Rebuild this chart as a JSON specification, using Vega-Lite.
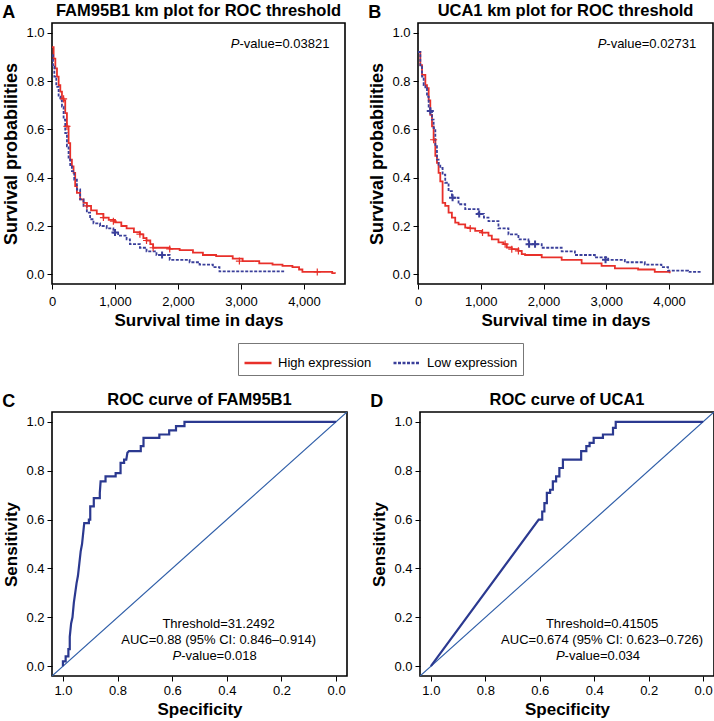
{
  "$schema": "https://vega.github.io/schema/vega-lite/v6.json",
  "padding": {"left": 2, "right": 0, "top": 1, "bottom": 0},
  "background": "white",
  "config": {
    "font": "Liberation Sans",
    "view": {"stroke": "#000", "strokeWidth": 1.6},
    "axis": {"grid": false, "domain": false, "tickColor": "#000", "tickSize": 5, "tickWidth": 1, "labelFontSize": 13, "labelColor": "#000", "labelPadding": 3, "labelFlush": false, "labelOverlap": false, "titleFontSize": 17, "titleFontWeight": "bold", "titleColor": "#000", "labelFont": "Liberation Sans", "titleFont": "Liberation Sans"},
    "axisY": {"titlePadding": 5},
    "axisX": {"titlePadding": 4},
    "title": {"font": "Liberation Sans", "fontSize": 16.5, "fontWeight": "bold", "color": "#000"}
  },
  "datasets": {
    "kmA": [
      {"t": 0, "s": 0.94, "g": "High expression"}, {"t": 26, "s": 0.893, "g": "High expression"}, {"t": 53, "s": 0.852, "g": "High expression"}, {"t": 79, "s": 0.818, "g": "High expression"}, {"t": 105, "s": 0.783, "g": "High expression"}, {"t": 132, "s": 0.756, "g": "High expression"}, {"t": 158, "s": 0.728, "g": "High expression"}, {"t": 184, "s": 0.72, "g": "High expression"}, {"t": 210, "s": 0.667, "g": "High expression"}, {"t": 237, "s": 0.612, "g": "High expression"}, {"t": 263, "s": 0.543, "g": "High expression"}, {"t": 289, "s": 0.475, "g": "High expression"}, {"t": 316, "s": 0.447, "g": "High expression"}, {"t": 342, "s": 0.42, "g": "High expression"}, {"t": 368, "s": 0.365, "g": "High expression"}, {"t": 395, "s": 0.337, "g": "High expression"}, {"t": 447, "s": 0.31, "g": "High expression"}, {"t": 500, "s": 0.296, "g": "High expression"}, {"t": 553, "s": 0.283, "g": "High expression"}, {"t": 620, "s": 0.265, "g": "High expression"}, {"t": 711, "s": 0.25, "g": "High expression"}, {"t": 816, "s": 0.235, "g": "High expression"}, {"t": 900, "s": 0.225, "g": "High expression"}, {"t": 1000, "s": 0.215, "g": "High expression"}, {"t": 1100, "s": 0.2, "g": "High expression"}, {"t": 1184, "s": 0.19, "g": "High expression"}, {"t": 1300, "s": 0.175, "g": "High expression"}, {"t": 1395, "s": 0.165, "g": "High expression"}, {"t": 1450, "s": 0.15, "g": "High expression"}, {"t": 1500, "s": 0.14, "g": "High expression"}, {"t": 1560, "s": 0.125, "g": "High expression"}, {"t": 1605, "s": 0.11, "g": "High expression"}, {"t": 1868, "s": 0.105, "g": "High expression"}, {"t": 2026, "s": 0.1, "g": "High expression"}, {"t": 2237, "s": 0.09, "g": "High expression"}, {"t": 2395, "s": 0.08, "g": "High expression"}, {"t": 2605, "s": 0.075, "g": "High expression"}, {"t": 2868, "s": 0.065, "g": "High expression"}, {"t": 3026, "s": 0.055, "g": "High expression"}, {"t": 3289, "s": 0.045, "g": "High expression"}, {"t": 3500, "s": 0.04, "g": "High expression"}, {"t": 3658, "s": 0.035, "g": "High expression"}, {"t": 3816, "s": 0.03, "g": "High expression"}, {"t": 3921, "s": 0.02, "g": "High expression"}, {"t": 3974, "s": 0.01, "g": "High expression"}, {"t": 4447, "s": 0.005, "g": "High expression"}, {"t": 4490, "s": 0.002, "g": "High expression"},
      {"t": 0, "s": 0.907, "g": "Low expression"}, {"t": 16, "s": 0.859, "g": "Low expression"}, {"t": 37, "s": 0.818, "g": "Low expression"}, {"t": 68, "s": 0.776, "g": "Low expression"}, {"t": 105, "s": 0.735, "g": "Low expression"}, {"t": 132, "s": 0.72, "g": "Low expression"}, {"t": 158, "s": 0.694, "g": "Low expression"}, {"t": 184, "s": 0.64, "g": "Low expression"}, {"t": 210, "s": 0.584, "g": "Low expression"}, {"t": 237, "s": 0.53, "g": "Low expression"}, {"t": 263, "s": 0.475, "g": "Low expression"}, {"t": 289, "s": 0.447, "g": "Low expression"}, {"t": 316, "s": 0.427, "g": "Low expression"}, {"t": 353, "s": 0.392, "g": "Low expression"}, {"t": 395, "s": 0.351, "g": "Low expression"}, {"t": 447, "s": 0.31, "g": "Low expression"}, {"t": 500, "s": 0.283, "g": "Low expression"}, {"t": 553, "s": 0.255, "g": "Low expression"}, {"t": 605, "s": 0.228, "g": "Low expression"}, {"t": 658, "s": 0.211, "g": "Low expression"}, {"t": 763, "s": 0.2, "g": "Low expression"}, {"t": 868, "s": 0.19, "g": "Low expression"}, {"t": 974, "s": 0.173, "g": "Low expression"}, {"t": 1050, "s": 0.16, "g": "Low expression"}, {"t": 1184, "s": 0.145, "g": "Low expression"}, {"t": 1237, "s": 0.125, "g": "Low expression"}, {"t": 1395, "s": 0.11, "g": "Low expression"}, {"t": 1500, "s": 0.095, "g": "Low expression"}, {"t": 1658, "s": 0.08, "g": "Low expression"}, {"t": 1868, "s": 0.06, "g": "Low expression"}, {"t": 2184, "s": 0.05, "g": "Low expression"}, {"t": 2342, "s": 0.04, "g": "Low expression"}, {"t": 2553, "s": 0.03, "g": "Low expression"}, {"t": 2658, "s": 0.012, "g": "Low expression"}, {"t": 3684, "s": 0.012, "g": "Low expression"}
    ],
    "kmB": [
      {"t": 0, "s": 0.92, "g": "High expression"}, {"t": 37, "s": 0.866, "g": "High expression"}, {"t": 64, "s": 0.825, "g": "High expression"}, {"t": 117, "s": 0.783, "g": "High expression"}, {"t": 143, "s": 0.77, "g": "High expression"}, {"t": 170, "s": 0.72, "g": "High expression"}, {"t": 196, "s": 0.66, "g": "High expression"}, {"t": 223, "s": 0.612, "g": "High expression"}, {"t": 249, "s": 0.557, "g": "High expression"}, {"t": 276, "s": 0.49, "g": "High expression"}, {"t": 302, "s": 0.461, "g": "High expression"}, {"t": 328, "s": 0.42, "g": "High expression"}, {"t": 355, "s": 0.385, "g": "High expression"}, {"t": 392, "s": 0.296, "g": "High expression"}, {"t": 434, "s": 0.283, "g": "High expression"}, {"t": 487, "s": 0.255, "g": "High expression"}, {"t": 540, "s": 0.235, "g": "High expression"}, {"t": 593, "s": 0.214, "g": "High expression"}, {"t": 646, "s": 0.207, "g": "High expression"}, {"t": 752, "s": 0.193, "g": "High expression"}, {"t": 832, "s": 0.19, "g": "High expression"}, {"t": 911, "s": 0.18, "g": "High expression"}, {"t": 1017, "s": 0.173, "g": "High expression"}, {"t": 1123, "s": 0.16, "g": "High expression"}, {"t": 1176, "s": 0.145, "g": "High expression"}, {"t": 1282, "s": 0.132, "g": "High expression"}, {"t": 1362, "s": 0.125, "g": "High expression"}, {"t": 1415, "s": 0.111, "g": "High expression"}, {"t": 1494, "s": 0.104, "g": "High expression"}, {"t": 1600, "s": 0.097, "g": "High expression"}, {"t": 1653, "s": 0.084, "g": "High expression"}, {"t": 1706, "s": 0.08, "g": "High expression"}, {"t": 1971, "s": 0.07, "g": "High expression"}, {"t": 2289, "s": 0.06, "g": "High expression"}, {"t": 2607, "s": 0.045, "g": "High expression"}, {"t": 2925, "s": 0.035, "g": "High expression"}, {"t": 3137, "s": 0.025, "g": "High expression"}, {"t": 3507, "s": 0.02, "g": "High expression"}, {"t": 3772, "s": 0.01, "g": "High expression"}, {"t": 4010, "s": 0.005, "g": "High expression"},
      {"t": 0, "s": 0.92, "g": "Low expression"}, {"t": 37, "s": 0.859, "g": "Low expression"}, {"t": 64, "s": 0.818, "g": "Low expression"}, {"t": 90, "s": 0.783, "g": "Low expression"}, {"t": 117, "s": 0.77, "g": "Low expression"}, {"t": 143, "s": 0.735, "g": "Low expression"}, {"t": 170, "s": 0.694, "g": "Low expression"}, {"t": 196, "s": 0.676, "g": "Low expression"}, {"t": 223, "s": 0.64, "g": "Low expression"}, {"t": 249, "s": 0.605, "g": "Low expression"}, {"t": 276, "s": 0.53, "g": "Low expression"}, {"t": 302, "s": 0.475, "g": "Low expression"}, {"t": 328, "s": 0.454, "g": "Low expression"}, {"t": 355, "s": 0.44, "g": "Low expression"}, {"t": 392, "s": 0.413, "g": "Low expression"}, {"t": 434, "s": 0.379, "g": "Low expression"}, {"t": 487, "s": 0.344, "g": "Low expression"}, {"t": 540, "s": 0.317, "g": "Low expression"}, {"t": 646, "s": 0.29, "g": "Low expression"}, {"t": 752, "s": 0.27, "g": "Low expression"}, {"t": 964, "s": 0.25, "g": "Low expression"}, {"t": 1050, "s": 0.235, "g": "Low expression"}, {"t": 1123, "s": 0.22, "g": "Low expression"}, {"t": 1282, "s": 0.19, "g": "Low expression"}, {"t": 1441, "s": 0.165, "g": "Low expression"}, {"t": 1600, "s": 0.145, "g": "Low expression"}, {"t": 1759, "s": 0.125, "g": "Low expression"}, {"t": 1971, "s": 0.11, "g": "Low expression"}, {"t": 2289, "s": 0.095, "g": "Low expression"}, {"t": 2500, "s": 0.08, "g": "Low expression"}, {"t": 2818, "s": 0.07, "g": "Low expression"}, {"t": 3030, "s": 0.06, "g": "Low expression"}, {"t": 3295, "s": 0.05, "g": "Low expression"}, {"t": 3613, "s": 0.04, "g": "Low expression"}, {"t": 3878, "s": 0.03, "g": "Low expression"}, {"t": 3984, "s": 0.015, "g": "Low expression"}, {"t": 4302, "s": 0.01, "g": "Low expression"}, {"t": 4488, "s": 0.005, "g": "Low expression"}
    ],
    "censA": [
      {"t": 184, "s": 0.726, "g": "High expression"}, {"t": 237, "s": 0.612, "g": "High expression"}, {"t": 553, "s": 0.283, "g": "High expression"}, {"t": 816, "s": 0.235, "g": "High expression"}, {"t": 974, "s": 0.22, "g": "High expression"}, {"t": 1395, "s": 0.166, "g": "High expression"}, {"t": 1500, "s": 0.14, "g": "High expression"}, {"t": 1605, "s": 0.11, "g": "High expression"}, {"t": 1868, "s": 0.105, "g": "High expression"}, {"t": 2974, "s": 0.055, "g": "High expression"}, {"t": 4210, "s": 0.01, "g": "High expression"},
      {"t": 1000, "s": 0.173, "g": "Low expression"}, {"t": 1747, "s": 0.08, "g": "Low expression"}
    ],
    "censB": [
      {"t": 249, "s": 0.557, "g": "High expression"}, {"t": 832, "s": 0.19, "g": "High expression"}, {"t": 1028, "s": 0.173, "g": "High expression"}, {"t": 1388, "s": 0.125, "g": "High expression"}, {"t": 1494, "s": 0.104, "g": "High expression"}, {"t": 1600, "s": 0.097, "g": "High expression"},
      {"t": 196, "s": 0.676, "g": "Low expression"}, {"t": 551, "s": 0.317, "g": "Low expression"}, {"t": 975, "s": 0.25, "g": "Low expression"}, {"t": 1770, "s": 0.125, "g": "Low expression"}, {"t": 1865, "s": 0.125, "g": "Low expression"}, {"t": 2988, "s": 0.06, "g": "Low expression"}
    ],
    "pvA": [{"t": 2974, "s": 0.952, "italic": "P", "rest": "-value=0.03821"}],
    "pvB": [{"t": 3000, "s": 0.952, "italic": "P", "rest": "-value=0.02731"}],
    "rocC": [
      {"spec": 1.0, "sens": 0.0}, {"spec": 1.0, "sens": 0.02}, {"spec": 0.99, "sens": 0.02}, {"spec": 0.99, "sens": 0.04}, {"spec": 0.98, "sens": 0.04}, {"spec": 0.98, "sens": 0.07}, {"spec": 0.975, "sens": 0.07}, {"spec": 0.975, "sens": 0.12}, {"spec": 0.97, "sens": 0.175}, {"spec": 0.965, "sens": 0.2}, {"spec": 0.96, "sens": 0.26}, {"spec": 0.955, "sens": 0.3}, {"spec": 0.95, "sens": 0.34}, {"spec": 0.945, "sens": 0.37}, {"spec": 0.94, "sens": 0.42}, {"spec": 0.935, "sens": 0.47}, {"spec": 0.93, "sens": 0.5}, {"spec": 0.922, "sens": 0.585}, {"spec": 0.905, "sens": 0.585}, {"spec": 0.905, "sens": 0.6}, {"spec": 0.9, "sens": 0.6}, {"spec": 0.9, "sens": 0.654}, {"spec": 0.887, "sens": 0.654}, {"spec": 0.887, "sens": 0.688}, {"spec": 0.865, "sens": 0.688}, {"spec": 0.865, "sens": 0.709}, {"spec": 0.862, "sens": 0.756}, {"spec": 0.844, "sens": 0.756}, {"spec": 0.844, "sens": 0.777}, {"spec": 0.807, "sens": 0.777}, {"spec": 0.807, "sens": 0.79}, {"spec": 0.789, "sens": 0.79}, {"spec": 0.789, "sens": 0.832}, {"spec": 0.776, "sens": 0.832}, {"spec": 0.776, "sens": 0.845}, {"spec": 0.768, "sens": 0.845}, {"spec": 0.764, "sens": 0.873}, {"spec": 0.758, "sens": 0.88}, {"spec": 0.715, "sens": 0.88}, {"spec": 0.715, "sens": 0.9}, {"spec": 0.705, "sens": 0.9}, {"spec": 0.705, "sens": 0.934}, {"spec": 0.647, "sens": 0.934}, {"spec": 0.647, "sens": 0.948}, {"spec": 0.611, "sens": 0.948}, {"spec": 0.611, "sens": 0.965}, {"spec": 0.586, "sens": 0.965}, {"spec": 0.586, "sens": 0.982}, {"spec": 0.555, "sens": 0.982}, {"spec": 0.555, "sens": 1.0}, {"spec": 0.0, "sens": 1.0}
    ],
    "rocD": [
      {"spec": 1.0, "sens": 0.0}, {"spec": 0.604, "sens": 0.6}, {"spec": 0.591, "sens": 0.6}, {"spec": 0.591, "sens": 0.633}, {"spec": 0.583, "sens": 0.633}, {"spec": 0.583, "sens": 0.667}, {"spec": 0.574, "sens": 0.667}, {"spec": 0.574, "sens": 0.709}, {"spec": 0.562, "sens": 0.709}, {"spec": 0.562, "sens": 0.722}, {"spec": 0.552, "sens": 0.722}, {"spec": 0.552, "sens": 0.756}, {"spec": 0.54, "sens": 0.756}, {"spec": 0.54, "sens": 0.777}, {"spec": 0.528, "sens": 0.777}, {"spec": 0.528, "sens": 0.811}, {"spec": 0.515, "sens": 0.811}, {"spec": 0.515, "sens": 0.845}, {"spec": 0.448, "sens": 0.845}, {"spec": 0.448, "sens": 0.88}, {"spec": 0.429, "sens": 0.88}, {"spec": 0.429, "sens": 0.9}, {"spec": 0.417, "sens": 0.9}, {"spec": 0.417, "sens": 0.914}, {"spec": 0.402, "sens": 0.914}, {"spec": 0.402, "sens": 0.934}, {"spec": 0.368, "sens": 0.934}, {"spec": 0.368, "sens": 0.948}, {"spec": 0.331, "sens": 0.948}, {"spec": 0.331, "sens": 0.975}, {"spec": 0.321, "sens": 0.975}, {"spec": 0.321, "sens": 1.0}, {"spec": 0.0, "sens": 1.0}
    ],
    "diag": [{"spec": 1.1, "sens": -0.1}, {"spec": -0.1, "sens": 1.1}],
    "annC": [{"spec": 0.43, "sens": 0.172, "label": "Threshold=31.2492"}, {"spec": 0.43, "sens": 0.107, "label": "AUC=0.88 (95% CI: 0.846–0.914)"}],
    "annD": [{"spec": 0.371, "sens": 0.172, "label": "Threshold=0.41505"}, {"spec": 0.371, "sens": 0.107, "label": "AUC=0.674 (95% CI: 0.623–0.726)"}],
    "pvC": [{"spec": 0.567, "sens": 0.041, "italic": "P", "rest": "-value=0.018"}],
    "pvD": [{"spec": 0.509, "sens": 0.041, "italic": "P", "rest": "-value=0.034"}]
  },
  "vconcat": [
    {
      "spacing": 22,
      "hconcat": [
        {
          "title": {"text": "A", "anchor": "start", "frame": "bounds", "fontSize": 18, "offset": -20},
          "vconcat": [
            {
              "title": {"text": "FAM95B1 km plot for ROC threshold", "offset": 4},
              "width": 293, "height": 261,
              "layer": [
                {
                  "data": {"name": "kmA"},
                  "mark": {"type": "line", "interpolate": "step-after", "strokeWidth": 1.8},
                  "encoding": {
                    "x": {"field": "t", "type": "quantitative", "scale": {"domain": [0, 4650], "nice": false, "zero": false}, "axis": {"values": [0, 1000, 2000, 3000, 4000], "format": ",.0f", "labelPadding": 6, "title": "Survival time in days"}},
                    "y": {"field": "s", "type": "quantitative", "scale": {"domain": [-0.04, 1.04], "nice": false, "zero": false}, "axis": {"values": [0, 0.2, 0.4, 0.6, 0.8, 1], "format": ".1f", "title": "Survival probabilities", "titleFontSize": 18}},
                    "color": {"field": "g", "type": "nominal", "scale": {"domain": ["High expression", "Low expression"], "range": ["#e8302a", "#3a3f9a"]}, "legend": {"title": null, "orient": "none", "legendX": 186, "legendY": 320, "direction": "horizontal", "symbolType": "stroke", "symbolSize": 729, "symbolStrokeWidth": 2.5, "labelFontSize": 13, "labelColor": "#000", "strokeColor": "#777", "fillColor": "white", "padding": 5, "columnPadding": 16, "labelOffset": 5}},
                    "strokeDash": {"field": "g", "type": "nominal", "scale": {"domain": ["High expression", "Low expression"], "range": [[1, 0], [3, 1.5]]}}
                  }
                },
                {
                  "data": {"name": "censA"},
                  "transform": [{"filter": "datum.g === 'High expression'"}],
                  "mark": {"type": "point", "shape": "M-1,0L1,0M0,-1L0,1", "filled": false, "size": 50, "strokeWidth": 1.2, "color": "#e8302a", "opacity": 1},
                  "encoding": {"x": {"field": "t", "type": "quantitative"}, "y": {"field": "s", "type": "quantitative"}}
                },
                {
                  "data": {"name": "censA"},
                  "transform": [{"filter": "datum.g === 'Low expression'"}],
                  "mark": {"type": "point", "shape": "M-1,0L1,0M0,-1L0,1", "filled": false, "size": 50, "strokeWidth": 2, "color": "#3a3f9a", "opacity": 1},
                  "encoding": {"x": {"field": "t", "type": "quantitative"}, "y": {"field": "s", "type": "quantitative"}}
                },
                {
                  "data": {"name": "pvA"},
                  "mark": {"type": "text", "align": "right", "baseline": "middle", "fontSize": 13, "fontStyle": "italic", "color": "#000"},
                  "encoding": {"x": {"field": "t", "type": "quantitative"}, "y": {"field": "s", "type": "quantitative"}, "text": {"field": "italic"}}
                },
                {
                  "data": {"name": "pvA"},
                  "mark": {"type": "text", "align": "left", "baseline": "middle", "fontSize": 13, "color": "#000"},
                  "encoding": {"x": {"field": "t", "type": "quantitative"}, "y": {"field": "s", "type": "quantitative"}, "text": {"field": "rest"}}
                }
              ]
            }
          ]
        },
        {
          "title": {"text": "B", "anchor": "start", "frame": "bounds", "fontSize": 18, "offset": -20},
          "vconcat": [
            {
              "title": {"text": "UCA1 km plot for ROC threshold", "offset": 4},
              "width": 295, "height": 261,
              "layer": [
                {
                  "data": {"name": "kmB"},
                  "mark": {"type": "line", "interpolate": "step-after", "strokeWidth": 1.8},
                  "encoding": {
                    "x": {"field": "t", "type": "quantitative", "scale": {"domain": [0, 4700], "nice": false, "zero": false}, "axis": {"values": [0, 1000, 2000, 3000, 4000], "format": ",.0f", "labelPadding": 6, "title": "Survival time in days"}},
                    "y": {"field": "s", "type": "quantitative", "scale": {"domain": [-0.04, 1.04], "nice": false, "zero": false}, "axis": {"values": [0, 0.2, 0.4, 0.6, 0.8, 1], "format": ".1f", "title": "Survival probabilities", "titleFontSize": 18}},
                    "color": {"field": "g", "type": "nominal", "scale": {"domain": ["High expression", "Low expression"], "range": ["#e8302a", "#3a3f9a"]}, "legend": {"title": null, "orient": "none", "legendX": 186, "legendY": 320, "direction": "horizontal", "symbolType": "stroke", "symbolSize": 729, "symbolStrokeWidth": 2.5, "labelFontSize": 13, "labelColor": "#000", "strokeColor": "#777", "fillColor": "white", "padding": 5, "columnPadding": 16, "labelOffset": 5}},
                    "strokeDash": {"field": "g", "type": "nominal", "scale": {"domain": ["High expression", "Low expression"], "range": [[1, 0], [3, 1.5]]}}
                  }
                },
                {
                  "data": {"name": "censB"},
                  "transform": [{"filter": "datum.g === 'High expression'"}],
                  "mark": {"type": "point", "shape": "M-1,0L1,0M0,-1L0,1", "filled": false, "size": 50, "strokeWidth": 1.2, "color": "#e8302a", "opacity": 1},
                  "encoding": {"x": {"field": "t", "type": "quantitative"}, "y": {"field": "s", "type": "quantitative"}}
                },
                {
                  "data": {"name": "censB"},
                  "transform": [{"filter": "datum.g === 'Low expression'"}],
                  "mark": {"type": "point", "shape": "M-1,0L1,0M0,-1L0,1", "filled": false, "size": 50, "strokeWidth": 2, "color": "#3a3f9a", "opacity": 1},
                  "encoding": {"x": {"field": "t", "type": "quantitative"}, "y": {"field": "s", "type": "quantitative"}}
                },
                {
                  "data": {"name": "pvB"},
                  "mark": {"type": "text", "align": "right", "baseline": "middle", "fontSize": 13, "fontStyle": "italic", "color": "#000"},
                  "encoding": {"x": {"field": "t", "type": "quantitative"}, "y": {"field": "s", "type": "quantitative"}, "text": {"field": "italic"}}
                },
                {
                  "data": {"name": "pvB"},
                  "mark": {"type": "text", "align": "left", "baseline": "middle", "fontSize": 13, "color": "#000"},
                  "encoding": {"x": {"field": "t", "type": "quantitative"}, "y": {"field": "s", "type": "quantitative"}, "text": {"field": "rest"}}
                }
              ]
            }
          ]
        }
      ]
    },
    {
      "spacing": 22,
      "hconcat": [
        {
          "title": {"text": "C", "anchor": "start", "frame": "bounds", "fontSize": 18, "offset": -20},
          "vconcat": [
            {
              "title": {"text": "ROC curve of FAM95B1", "offset": 4},
              "width": 295, "height": 264,
              "layer": [
                {
                  "data": {"name": "diag"},
                  "mark": {"type": "line", "color": "#2f5ea8", "strokeWidth": 1.2, "clip": true},
                  "encoding": {
                    "x": {"field": "spec", "type": "quantitative", "scale": {"domain": [-0.04, 1.04], "reverse": true, "nice": false, "zero": false}, "axis": {"values": [0, 0.2, 0.4, 0.6, 0.8, 1], "format": ".1f", "title": "Specificity"}},
                    "y": {"field": "sens", "type": "quantitative", "scale": {"domain": [-0.04, 1.04], "nice": false, "zero": false}, "axis": {"values": [0, 0.2, 0.4, 0.6, 0.8, 1], "format": ".1f", "title": "Sensitivity"}},
                    "order": {"value": null}
                  }
                },
                {
                  "data": {"name": "rocC"},
                  "mark": {"type": "line", "color": "#2b3990", "strokeWidth": 2.2},
                  "encoding": {"x": {"field": "spec", "type": "quantitative"}, "y": {"field": "sens", "type": "quantitative"}, "order": {"value": null}}
                },
                {
                  "data": {"name": "annC"},
                  "mark": {"type": "text", "align": "center", "baseline": "middle", "fontSize": 13, "color": "#000"},
                  "encoding": {"x": {"field": "spec", "type": "quantitative"}, "y": {"field": "sens", "type": "quantitative"}, "text": {"field": "label"}}
                },
                {
                  "data": {"name": "pvC"},
                  "mark": {"type": "text", "align": "right", "baseline": "middle", "fontSize": 13, "fontStyle": "italic", "color": "#000"},
                  "encoding": {"x": {"field": "spec", "type": "quantitative"}, "y": {"field": "sens", "type": "quantitative"}, "text": {"field": "italic"}}
                },
                {
                  "data": {"name": "pvC"},
                  "mark": {"type": "text", "align": "left", "baseline": "middle", "fontSize": 13, "color": "#000"},
                  "encoding": {"x": {"field": "spec", "type": "quantitative"}, "y": {"field": "sens", "type": "quantitative"}, "text": {"field": "rest"}}
                }
              ]
            }
          ]
        },
        {
          "title": {"text": "D", "anchor": "start", "frame": "bounds", "fontSize": 18, "offset": -20},
          "vconcat": [
            {
              "title": {"text": "ROC curve of UCA1", "offset": 4},
              "width": 294, "height": 264,
              "layer": [
                {
                  "data": {"name": "diag"},
                  "mark": {"type": "line", "color": "#2f5ea8", "strokeWidth": 1.2, "clip": true},
                  "encoding": {
                    "x": {"field": "spec", "type": "quantitative", "scale": {"domain": [-0.04, 1.04], "reverse": true, "nice": false, "zero": false}, "axis": {"values": [0, 0.2, 0.4, 0.6, 0.8, 1], "format": ".1f", "title": "Specificity"}},
                    "y": {"field": "sens", "type": "quantitative", "scale": {"domain": [-0.04, 1.04], "nice": false, "zero": false}, "axis": {"values": [0, 0.2, 0.4, 0.6, 0.8, 1], "format": ".1f", "title": "Sensitivity"}},
                    "order": {"value": null}
                  }
                },
                {
                  "data": {"name": "rocD"},
                  "mark": {"type": "line", "color": "#2b3990", "strokeWidth": 2.2},
                  "encoding": {"x": {"field": "spec", "type": "quantitative"}, "y": {"field": "sens", "type": "quantitative"}, "order": {"value": null}}
                },
                {
                  "data": {"name": "annD"},
                  "mark": {"type": "text", "align": "center", "baseline": "middle", "fontSize": 13, "color": "#000"},
                  "encoding": {"x": {"field": "spec", "type": "quantitative"}, "y": {"field": "sens", "type": "quantitative"}, "text": {"field": "label"}}
                },
                {
                  "data": {"name": "pvD"},
                  "mark": {"type": "text", "align": "right", "baseline": "middle", "fontSize": 13, "fontStyle": "italic", "color": "#000"},
                  "encoding": {"x": {"field": "spec", "type": "quantitative"}, "y": {"field": "sens", "type": "quantitative"}, "text": {"field": "italic"}}
                },
                {
                  "data": {"name": "pvD"},
                  "mark": {"type": "text", "align": "left", "baseline": "middle", "fontSize": 13, "color": "#000"},
                  "encoding": {"x": {"field": "spec", "type": "quantitative"}, "y": {"field": "sens", "type": "quantitative"}, "text": {"field": "rest"}}
                }
              ]
            }
          ]
        }
      ]
    }
  ],
  "spacing": 61
}
